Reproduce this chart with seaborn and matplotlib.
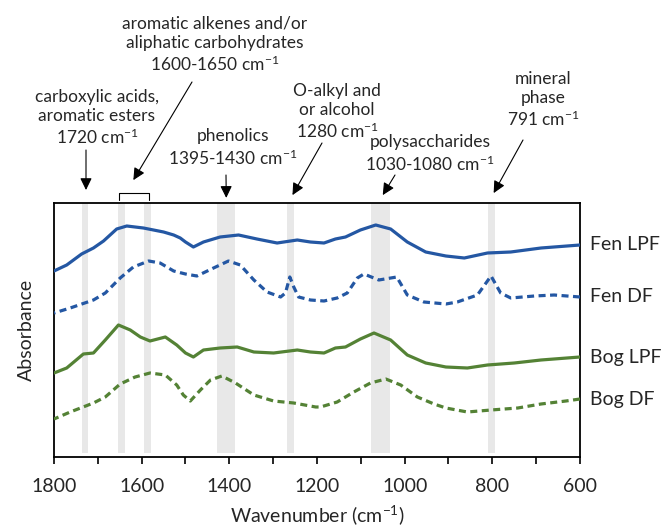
import numpy as np
import pandas as pd
import matplotlib
matplotlib.use("Agg")
import matplotlib.pyplot as plt
import seaborn as sns

sns.set_style("white")
plt.rcParams['font.family'] = ['Lato', 'DejaVu Sans']
plt.rcParams['mathtext.fontset'] = 'custom'
plt.rcParams['mathtext.rm'] = 'Lato'
plt.rcParams['mathtext.default'] = 'regular'

# spectra (wavenumber in cm-1, absorbance offset per sample)
fen_lpf_wn = [1800, 1771, 1737, 1710, 1687, 1657, 1634, 1596, 1550, 1527, 1512, 1500, 1482, 1459, 1421,
              1379, 1337, 1291, 1245, 1215, 1184, 1158, 1135, 1101, 1066, 1032, 994, 952, 906, 864,
              811, 758, 689, 600]
fen_lpf_ab = [1.86, 1.92, 2.03, 2.09, 2.16, 2.28, 2.31, 2.29, 2.25, 2.22, 2.19, 2.15, 2.10, 2.15, 2.20,
              2.22, 2.18, 2.14, 2.17, 2.15, 2.14, 2.18, 2.20, 2.27, 2.32, 2.28, 2.15, 2.05, 2.01, 1.99,
              2.04, 2.05, 2.09, 2.12]

fen_df_wn = [1800, 1763, 1710, 1683, 1649, 1619, 1584, 1558, 1527, 1500, 1474, 1436, 1402, 1375, 1344,
             1314, 1283, 1272, 1262, 1253, 1242, 1215, 1184, 1154, 1131, 1108, 1093, 1059, 1018, 994,
             956, 906, 880, 834, 803, 781, 758, 704, 659, 600]
fen_df_ab = [1.44, 1.49, 1.57, 1.64, 1.79, 1.90, 1.96, 1.94, 1.86, 1.83, 1.81, 1.89, 1.96, 1.92, 1.77,
             1.65, 1.60, 1.64, 1.80, 1.70, 1.60, 1.57, 1.56, 1.59, 1.64, 1.79, 1.83, 1.77, 1.80, 1.62,
             1.55, 1.53, 1.55, 1.62, 1.81, 1.64, 1.59, 1.61, 1.62, 1.60]

bog_lpf_wn = [1800, 1771, 1733, 1710, 1683, 1653, 1626, 1603, 1581, 1546, 1520, 1500, 1482, 1459, 1421,
              1382, 1344, 1299, 1245, 1215, 1184, 1158, 1135, 1101, 1070, 1032, 994, 952, 906, 857,
              811, 750, 689, 600]
bog_lpf_ab = [0.84, 0.89, 1.03, 1.04, 1.17, 1.32, 1.27, 1.20, 1.16, 1.20, 1.12, 1.04, 1.00, 1.07, 1.09,
              1.10, 1.05, 1.04, 1.07, 1.05, 1.04, 1.09, 1.10, 1.18, 1.24, 1.17, 1.02, 0.94, 0.90, 0.89,
              0.92, 0.94, 0.97, 1.00]

bog_df_wn = [1800, 1763, 1710, 1683, 1649, 1615, 1581, 1546, 1520, 1505, 1489, 1466, 1443, 1417, 1386,
             1344, 1299, 1253, 1203, 1192, 1154, 1116, 1078, 1043, 1009, 971, 933, 906, 857, 803,
             742, 689, 632, 600]
bog_df_ab = [0.38, 0.45, 0.54, 0.60, 0.73, 0.80, 0.84, 0.82, 0.72, 0.62, 0.56, 0.67, 0.77, 0.81, 0.74,
             0.62, 0.56, 0.54, 0.50, 0.50, 0.55, 0.65, 0.74, 0.78, 0.72, 0.60, 0.53, 0.49, 0.45, 0.47,
             0.49, 0.53, 0.56, 0.58]

names = ['Fen LPF', 'Fen DF', 'Bog LPF', 'Bog DF']
blue = '#2457a3'
green = '#548235'

# grey bands (cm-1)
bands = [(1722, 1737), (1638, 1653), (1578, 1594), (1388, 1428), (1253, 1268), (1034, 1076), (794, 809)]

series = [(fen_lpf_wn, fen_lpf_ab, blue, '-'),
          (fen_df_wn, fen_df_ab, blue, (0, (2.2, 1.4))),
          (bog_lpf_wn, bog_lpf_ab, green, '-'),
          (bog_df_wn, bog_df_ab, green, (0, (2.2, 1.4)))]

fig = plt.figure(figsize=(6.66, 5.29), dpi=100)
ax = fig.add_axes([54/666, 72/529, 526/666, 254/529])

for lo, hi in bands:
    ax.axvspan(lo, hi, ymin=0.017, ymax=1, color='#e8e8e8', lw=0, zorder=0)

for (wn, ab, col, ls), name in zip(series, names):
    df = pd.DataFrame({'wn': wn, 'ab': ab})
    sns.lineplot(data=df, x='wn', y='ab', ax=ax, color=col, linestyle=ls, lw=2.3, zorder=3)
    ax.annotate(name, xy=(600, ab[-1]), xytext=(7.5, 0), textcoords='offset points',
                va='center', ha='left', fontsize=14, annotation_clip=False)

ax.set_xlim(1800, 600)
ax.set_ylim(0, 2.54)
ax.set_xticks(np.arange(1800, 599, -200))
ax.set_xticks(np.arange(1700, 600, -200), minor=True)
ax.set_yticks([])
ax.tick_params(axis='x', which='both', direction='out', length=5, width=1.2, bottom=True,
               labelsize=14, pad=10, color='black')
for s in ax.spines.values():
    s.set_color('black')
    s.set_linewidth(1.3)
ax.set_xlabel('Wavenumber (cm$^{-1}$)', fontsize=14, labelpad=6)
ax.set_ylabel('Absorbance', fontsize=14, labelpad=14)

# annotations above the panel
tr = ax.get_xaxis_transform()
notes = [('carboxylic acids,\naromatic esters\n1720 cm$^{-1}$', 97, 118, (86, 150), (1727, 1.051)),
         ('aromatic alkenes and/or\naliphatic carbohydrates\n1600-1650 cm$^{-1}$', 215, 45, (192, 82), (1619, 1.09)),
         ('phenolics\n1395-1430 cm$^{-1}$', 233, 148, (226, 175), (1407, 1.02)),
         ('O-alkyl and\nor alcohol\n1280 cm$^{-1}$', 337, 112, (322, 143), (1256, 1.031)),
         ('polysaccharides\n1030-1080 cm$^{-1}$', 430, 154, (395, 175), (1050, 1.031)),
         ('mineral\nphase\n791 cm$^{-1}$', 543, 100, (523, 140), (797, 1.039))]
for txt, tx, ty, tail, tip in notes:
    fig.text(tx/666, 1 - ty/529, txt, ha='center', va='center', fontsize=12.5, linespacing=1.25)
    ax.annotate('', xy=tip, xycoords=tr, xytext=(tail[0], 529 - tail[1]), textcoords='figure pixels',
                arrowprops=dict(arrowstyle='-|>,head_length=0.45,head_width=0.22', color='black',
                                lw=0.8, mutation_scale=16, shrinkA=0, shrinkB=0), annotation_clip=False)

# bracket over the 1600-1650 bands
ax.plot([1651, 1651, 1583, 1583], [1.012, 1.039, 1.039, 1.012], transform=tr, color='black',
        lw=0.8, clip_on=False)

fig.savefig('out.png', dpi=100)
